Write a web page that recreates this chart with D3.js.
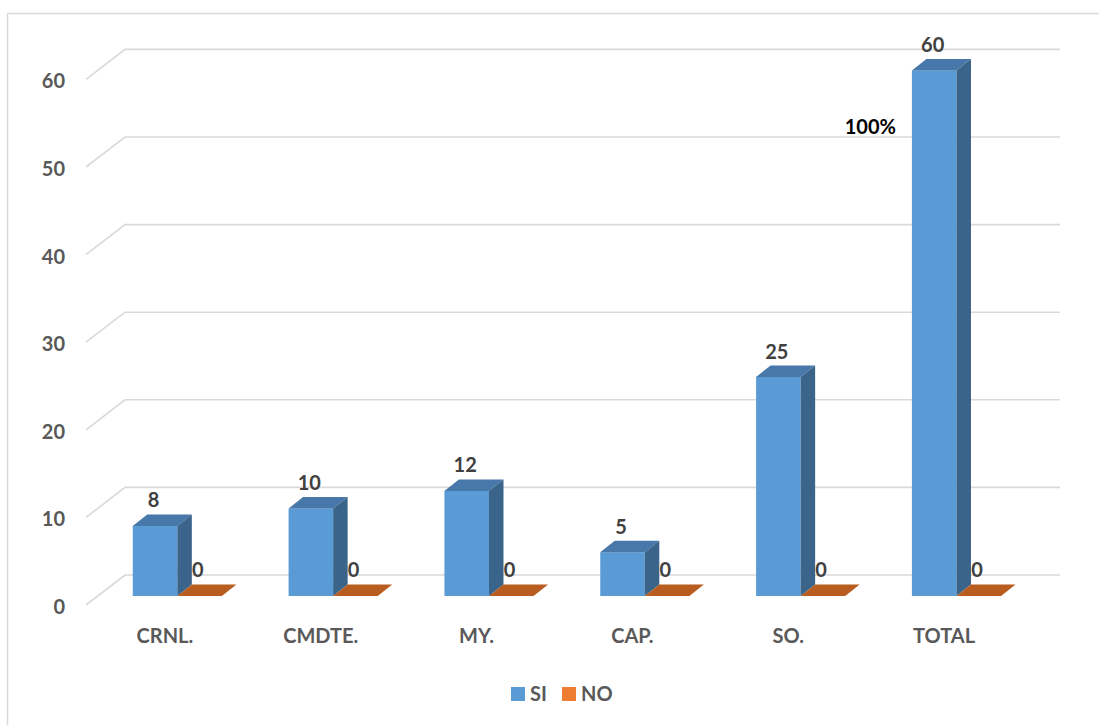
<!DOCTYPE html>
<html>
<head>
<meta charset="utf-8">
<script src="https://cdn.jsdelivr.net/npm/d3@7"></script>
<style>
  html, body { margin: 0; padding: 0; background: #ffffff; }
  svg { display: block; }
  text { font-family: Lato, "Open Sans", "DejaVu Sans", sans-serif; font-weight: bold; }
</style>
</head>
<body>
<svg id="chart" width="1099" height="725"></svg>
<script>
// Categories and values
const categories = ["CRNL.", "CMDTE.", "MY.", "CAP.", "SO.", "TOTAL"];
const siValues = [8, 10, 12, 5, 25, 60];
const noValues = [0, 0, 0, 0, 0, 0];
const yTicks = [0, 10, 20, 30, 40, 50, 60];
const seriesNames = ["SI", "NO"];
const totalNote = "100%";

const svg = d3.select("#chart");

// Chart frame
svg.append("rect")
  .attr("x", 7.5).attr("y", 13.5)
  .attr("width", 1200).attr("height", 800)
  .attr("fill", "none").attr("stroke", "#d9d9d9").attr("stroke-width", 1.5);

// Scales: x over the front plane, y for bar fronts
const x = d3.scaleBand().domain(categories).range([86, 1021]).padding(0);
const y = d3.scaleLinear().domain([0, 60]).range([596, 70.4]);
const bw = x.bandwidth();
const barW = bw * 0.286;
const barOff = bw * 0.30;

// 3D geometry
const wallDX = 39, wallDY = 30;      // back wall to front edge
const wallShift = -21;               // back wall relative to bar front y
const depthDX = 14.5, depthDY = -11.5; // bar depth

// Gridlines: back-wall line plus diagonal floor/side segment
const grid = svg.append("g");
yTicks.forEach(v => {
  const yb = y(v) + wallShift;
  grid.append("path")
    .attr("d", `M${125 - wallDX},${yb + wallDY} L125,${yb} L1060,${yb}`)
    .attr("fill", "none").attr("stroke", "#d9d9d9").attr("stroke-width", 1.6);
});

// Y axis tick labels
const yAxis = d3.axisLeft(y).tickValues(yTicks).tickSize(0).tickPadding(0);
const yAxisG = svg.append("g")
  .attr("transform", `translate(65, ${wallShift + wallDY + 2})`)
  .call(yAxis);
yAxisG.select(".domain").remove();
yAxisG.selectAll("text")
  .attr("fill", "#595959")
  .style("font-size", "20px")
  .style("font-family", "Lato, 'Open Sans', sans-serif")
  .style("font-weight", "bold");

const colors = {
  siFront: "#5b9bd5", siTop: "#4877aa", siSide: "#3a6489",
  noTop: "#b85d1f", noLegend: "#ed7d31"
};

const bars = svg.append("g");
categories.forEach((c, i) => {
  const x0 = x(c) + barOff;
  const yTop = y(siValues[i]);
  const yBase = y(0);
  // SI bar: front, top, side
  bars.append("rect")
    .attr("x", x0).attr("y", yTop)
    .attr("width", barW).attr("height", yBase - yTop)
    .attr("fill", colors.siFront);
  bars.append("path")
    .attr("d", `M${x0},${yTop} L${x0 + depthDX},${yTop + depthDY} L${x0 + barW + depthDX},${yTop + depthDY} L${x0 + barW},${yTop} Z`)
    .attr("fill", colors.siTop);
  bars.append("path")
    .attr("d", `M${x0 + barW},${yTop} L${x0 + barW + depthDX},${yTop + depthDY} L${x0 + barW + depthDX},${yBase + depthDY} L${x0 + barW},${yBase} Z`)
    .attr("fill", colors.siSide);

  // NO bar (flat at its value)
  const n0 = x0 + barW;
  const nTop = y(noValues[i]);
  if (noValues[i] > 0) {
    bars.append("rect")
      .attr("x", n0).attr("y", nTop)
      .attr("width", barW).attr("height", yBase - nTop)
      .attr("fill", colors.noLegend);
  }
  bars.append("path")
    .attr("d", `M${n0},${nTop} L${n0 + depthDX},${nTop + depthDY} L${n0 + barW + depthDX},${nTop + depthDY} L${n0 + barW},${nTop} Z`)
    .attr("fill", colors.noTop);

  // Data labels
  bars.append("text")
    .attr("x", x0 + barW / 2 - 1.5).attr("y", yTop - 18.5)
    .attr("text-anchor", "middle")
    .attr("fill", "#404040").style("font-size", "20px")
    .text(siValues[i]);
  bars.append("text")
    .attr("x", n0 + 20.5).attr("y", nTop - 19)
    .attr("text-anchor", "middle")
    .attr("fill", "#404040").style("font-size", "20px")
    .text(noValues[i]);

  // Category label
  svg.append("text")
    .attr("x", x(c) + bw / 2 + 1).attr("y", 643)
    .attr("text-anchor", "middle")
    .attr("fill", "#595959").style("font-size", "20px")
    .text(c);
});

// Share note beside the total bar
const lastX = x(categories[categories.length - 1]) + barOff;
svg.append("text")
  .attr("x", lastX - 16).attr("y", 134)
  .attr("text-anchor", "end")
  .attr("fill", "#000000").style("font-size", "20px")
  .text(totalNote);

// Legend
const legend = svg.append("g");
const legendItems = [
  { name: seriesNames[0], color: colors.siFront, x: 511 },
  { name: seriesNames[1], color: colors.noLegend, x: 562 }
];
legendItems.forEach(d => {
  legend.append("rect")
    .attr("x", d.x).attr("y", 687)
    .attr("width", 14).attr("height", 14)
    .attr("fill", d.color);
  legend.append("text")
    .attr("x", d.x + 19).attr("y", 701)
    .attr("fill", "#595959").style("font-size", "20px")
    .text(d.name);
});
</script>
</body>
</html>
